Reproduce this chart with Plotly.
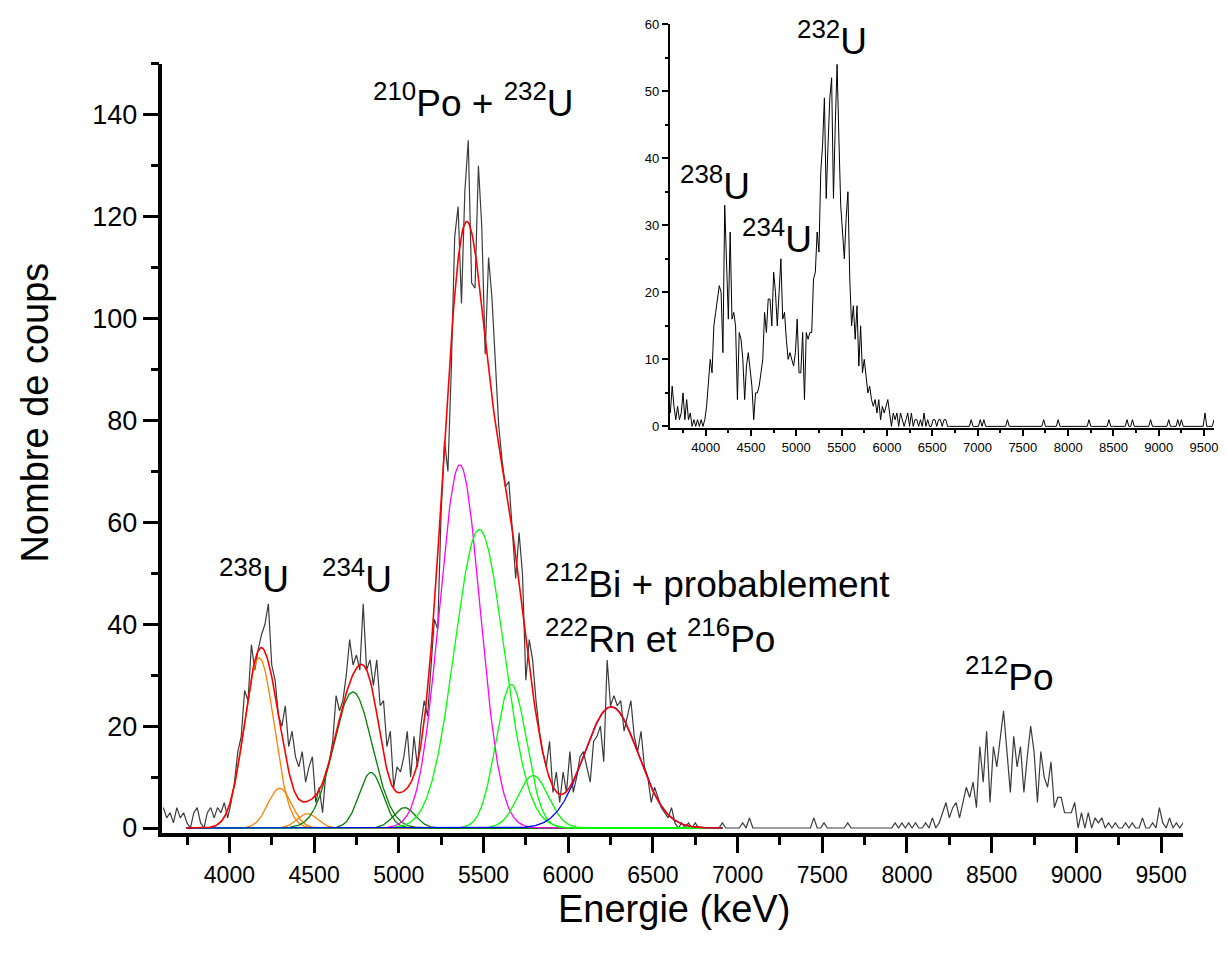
import numpy as np
import plotly.graph_objects as go

# ---------------------------------------------------------------------------
# Alpha spectrum (main panel): counts per 20 keV channel, first channel 3610 keV
# ---------------------------------------------------------------------------
E_START = 3610
E_STEP = 20

main_counts = [
    4, 2, 3, 1, 4, 2, 3, 1, 0, 3, 4, 1, 0, 3, 4, 2, 4, 3, 5, 2,                      # 3610-3990
    5, 9, 15, 18, 27, 25, 36, 31, 35, 38, 40, 44, 32, 29, 22, 20, 24, 16, 19, 14, 12, 15, 9, 12, 14,   # 4010-4490
    5, 8, 3, 11, 13, 17, 26, 23, 25, 30, 37, 32, 34, 31, 44, 31, 33, 28, 33, 24, 25, 16, 19, 8, 12,    # 4510-4990
    11, 14, 19, 10, 18, 12, 20, 25, 22, 32, 41, 39, 62, 76, 70, 90, 116, 122, 103, 125, 135, 107, 106, 130, 118,  # 5010-5490
    93, 112, 104, 92, 79, 72, 67, 68, 58, 49, 58, 50, 29, 37, 33, 25, 19, 15, 12, 17, 7, 11, 5, 11, 7,  # 5510-5990
    15, 7, 10, 14, 15, 12, 9, 17, 18, 20, 13, 33, 24, 26, 24, 25, 19, 22, 25, 18, 15, 19, 12, 10, 5,   # 6010-6490
    8, 6, 4, 3, 2, 4, 1, 0, 1, 0, 1, 0, 1, 0, 0, 0, 0, 0, 0, 0, 1, 0, 0, 0, 0,                         # 6510-6990
    0, 1, 0, 2, 0, 0, 0, 0, 0, 0, 0, 0, 0, 0, 0, 0, 0, 0, 0, 0, 0, 0, 2, 0, 0,                         # 7010-7490
    1, 0, 0, 0, 0, 0, 0, 1, 0, 0, 0, 0, 0, 0, 0, 0, 0, 0, 0, 0, 0, 1, 0, 1, 0,                         # 7510-7990
    1, 0, 1, 0, 0, 1, 0, 2, 0, 1, 3, 5, 2, 4, 5, 2, 5, 8, 6, 9, 4, 16, 9, 19, 5,                       # 8010-8490
    16, 12, 18, 23, 15, 7, 18, 12, 16, 7, 14, 20, 15, 5, 15, 10, 8, 13, 4, 6, 6, 3, 3, 3, 5,          # 8510-8990
    0, 3, 0, 3, 0, 2, 1, 2, 0, 1, 0, 1, 0, 0, 1, 0, 1, 0, 0, 2, 0, 0, 1, 0, 4,                         # 9010-9490
    1, 0, 2, 0, 1, 0, 1,                                                                                # 9510-9630
]

# Inset spectrum: counts per 20 keV channel, first channel 3610 keV
inset_counts = [
    2, 6, 3, 1, 3, 1, 2, 5, 1, 4, 1, 2, 0, 1, 0, 1, 0, 1, 0, 1,                                         # 3610-3990
    3, 7, 10, 8, 15, 17, 19, 21, 20, 11, 33, 23, 16, 29, 16, 17, 15, 4, 14, 13, 10, 4, 9, 11, 8,       # 4010-4490
    6, 1, 5, 5, 6, 8, 10, 17, 14, 19, 19, 15, 23, 20, 15, 20, 25, 16, 17, 13, 10, 11, 10, 9, 11,       # 4510-4990
    16, 8, 8, 14, 4, 14, 13, 14, 14, 22, 23, 29, 26, 38, 42, 49, 34, 42, 49, 52, 34, 45, 54, 43, 33,   # 5010-5490
    29, 25, 31, 35, 22, 15, 18, 13, 18, 9, 15, 8, 10, 7, 5, 6, 4, 3, 4, 2, 4, 1, 3, 2, 3,              # 5510-5990
    4, 2, 0, 2, 1, 2, 0, 2, 1, 0, 1, 2, 0, 2, 0, 1, 1, 0, 1, 0, 2, 0, 1, 0, 0,                         # 6010-6490
    1, 1, 0, 1, 1, 0, 1, 1, 0, 0, 0, 0, 0, 0, 0, 0, 0, 0, 0, 0, 0, 1, 0, 0, 0,                         # 6510-6990
    0, 1, 0, 1, 0, 0, 0, 0, 0, 0, 0, 0, 0, 0, 0, 0, 1, 0, 0, 0, 0, 0, 0, 0, 0,                         # 7010-7490
    0, 0, 0, 0, 0, 0, 0, 0, 0, 0, 0, 1, 0, 0, 0, 0, 0, 0, 0, 1, 0, 0, 0, 0, 0,                         # 7510-7990
    0, 0, 0, 0, 0, 0, 0, 0, 0, 0, 0, 1, 0, 0, 0, 0, 0, 0, 0, 0, 0, 0, 1, 0, 0,                         # 8010-8490
    0, 0, 0, 0, 0, 0, 0, 1, 0, 0, 1, 0, 0, 0, 0, 0, 0, 0, 0, 0, 1, 0, 0, 0, 0,                         # 8510-8990
    0, 0, 0, 0, 0, 1, 0, 0, 0, 0, 1, 0, 1, 0, 0, 0, 0, 0, 0, 0, 0, 0, 0, 0, 0,                         # 9010-9490
    2, 0, 0, 0, 0, 1,                                                                                   # 9510-9610
]

# ---------------------------------------------------------------------------
# Multi-peak Gaussian fit of the main spectrum (centre keV, height, sigma keV)
# ---------------------------------------------------------------------------
peak_center = [4176, 4297, 4460, 4729, 4836, 5034, 5360, 5475, 5664, 5793, 6254]
peak_height = [33.4, 7.8, 2.8, 26.7, 10.9, 4.0, 71.3, 58.6, 28.2, 10.3, 23.8]
peak_sigma = [88, 70, 60, 115, 70, 65, 120, 145, 90, 90, 160]
peak_color = ["#FF8000", "#FF8000", "#FF8000",
              "#008000", "#008000", "#008000",
              "#FF00FF",
              "#00FF00", "#00FF00", "#00FF00",
              "#0000FF"]
FIT_FROM, FIT_TO = 3745, 6910

FONT = "Liberation Sans, Arial, sans-serif"

main_e = E_START + E_STEP * np.arange(len(main_counts))
inset_e = E_START + E_STEP * np.arange(len(inset_counts))
fit_e = np.arange(FIT_FROM, FIT_TO + 1, 5.0)

fig = go.Figure()

fig.add_trace(go.Scatter(x=main_e, y=main_counts, mode="lines",
                         line=dict(color="#3c3c3c", width=1.2),
                         xaxis="x", yaxis="y", showlegend=False, hoverinfo="skip"))

fit_total = np.zeros_like(fit_e)
for c, h, s, col in zip(peak_center, peak_height, peak_sigma, peak_color):
    g = h * np.exp(-0.5 * ((fit_e - c) / s) ** 2)
    fit_total += g
    fig.add_trace(go.Scatter(x=fit_e, y=g, mode="lines",
                             line=dict(color=col, width=1.3),
                             xaxis="x", yaxis="y", showlegend=False, hoverinfo="skip"))

fig.add_trace(go.Scatter(x=fit_e, y=fit_total, mode="lines",
                         line=dict(color="#FF0000", width=1.6),
                         xaxis="x", yaxis="y", showlegend=False, hoverinfo="skip"))

fig.add_trace(go.Scatter(x=inset_e, y=inset_counts, mode="lines",
                         line=dict(color="#000000", width=1.0),
                         xaxis="x2", yaxis="y2", showlegend=False, hoverinfo="skip"))

W, H = 1227, 960


def px_x(p):
    return p / W


def px_y(p):
    return 1 - p / H


main_axis_common = dict(showline=True, linecolor="black", linewidth=3.5,
                        ticks="outside", tickwidth=3, tickcolor="black",
                        showgrid=False, zeroline=False)
inset_axis_common = dict(showline=True, linecolor="black", linewidth=1.8,
                         ticks="outside", tickwidth=1.5, ticklen=6, tickcolor="black",
                         showgrid=False, zeroline=False,
                         tickfont=dict(family=FONT, size=13, color="black"))

fig.update_layout(
    width=W, height=H, autosize=False,
    margin=dict(l=0, r=0, t=0, b=0),
    paper_bgcolor="white", plot_bgcolor="white",
    xaxis=dict(domain=[px_x(163), px_x(1187)], range=[3605, 9630], anchor="y",
               tick0=4000, dtick=500, ticklen=16, ticklabelstandoff=3,
               tickfont=dict(family=FONT, size=23, color="black"),
               minor=dict(dtick=250, ticks="outside", ticklen=8, tickwidth=3, tickcolor="black"),
               **main_axis_common),
    yaxis=dict(domain=[px_y(841), px_y(58)], range=[-1, 150], anchor="x",
               tick0=0, dtick=20, ticklen=16,
               tickfont=dict(family=FONT, size=27, color="black"),
               minor=dict(dtick=10, ticks="outside", ticklen=8, tickwidth=3, tickcolor="black"),
               **main_axis_common),
    xaxis2=dict(domain=[px_x(672), px_x(1218)], range=[3604, 9610], anchor="y2",
                tick0=4000, dtick=500,
                minor=dict(dtick=250, ticks="outside", ticklen=3, tickwidth=1.5, tickcolor="black"),
                **inset_axis_common),
    yaxis2=dict(domain=[px_y(429), px_y(17.5)], range=[-0.3, 60], anchor="x2",
                tick0=0, dtick=10,
                minor=dict(dtick=5, ticks="outside", ticklen=3, tickwidth=1.5, tickcolor="black"),
                **inset_axis_common),
)

label_font = dict(family=FONT, size=37, color="black")

main_labels = [
    ("<sup>210</sup>Po + <sup>232</sup>U", 5441, 142.9, "center"),
    ("<sup>238</sup>U", 4143, 49.3, "center"),
    ("<sup>234</sup>U", 4752, 49.3, "center"),
    ("<sup>212</sup>Bi + probablement", 5853, 48.3, "left"),
    ("<sup>222</sup>Rn et <sup>216</sup>Po", 5853, 37.6, "left"),
    ("<sup>212</sup>Po", 8603, 30.1, "center"),
]
for text, x, y, anchor in main_labels:
    fig.add_annotation(text=text, x=x, y=y, xref="x", yref="y",
                       xanchor=anchor, yanchor="middle", showarrow=False, font=label_font)

inset_labels = [
    ("<sup>232</sup>U", 5390, 57.8),
    ("<sup>238</sup>U", 4105, 36.2),
    ("<sup>234</sup>U", 4785, 28.3),
]
for text, x, y in inset_labels:
    fig.add_annotation(text=text, x=x, y=y, xref="x2", yref="y2",
                       xanchor="center", yanchor="middle", showarrow=False, font=label_font)

title_font = dict(family=FONT, size=38, color="black")
fig.add_annotation(text="Energie (keV)", x=px_x(676), y=px_y(918), xref="paper", yref="paper",
                   xanchor="center", yanchor="middle", showarrow=False, font=title_font)
fig.add_annotation(text="Nombre de coups", x=px_x(35), y=px_y(413), xref="paper", yref="paper",
                   xanchor="center", yanchor="middle", textangle=-90, showarrow=False, font=title_font)

fig.write_html("out.html")
